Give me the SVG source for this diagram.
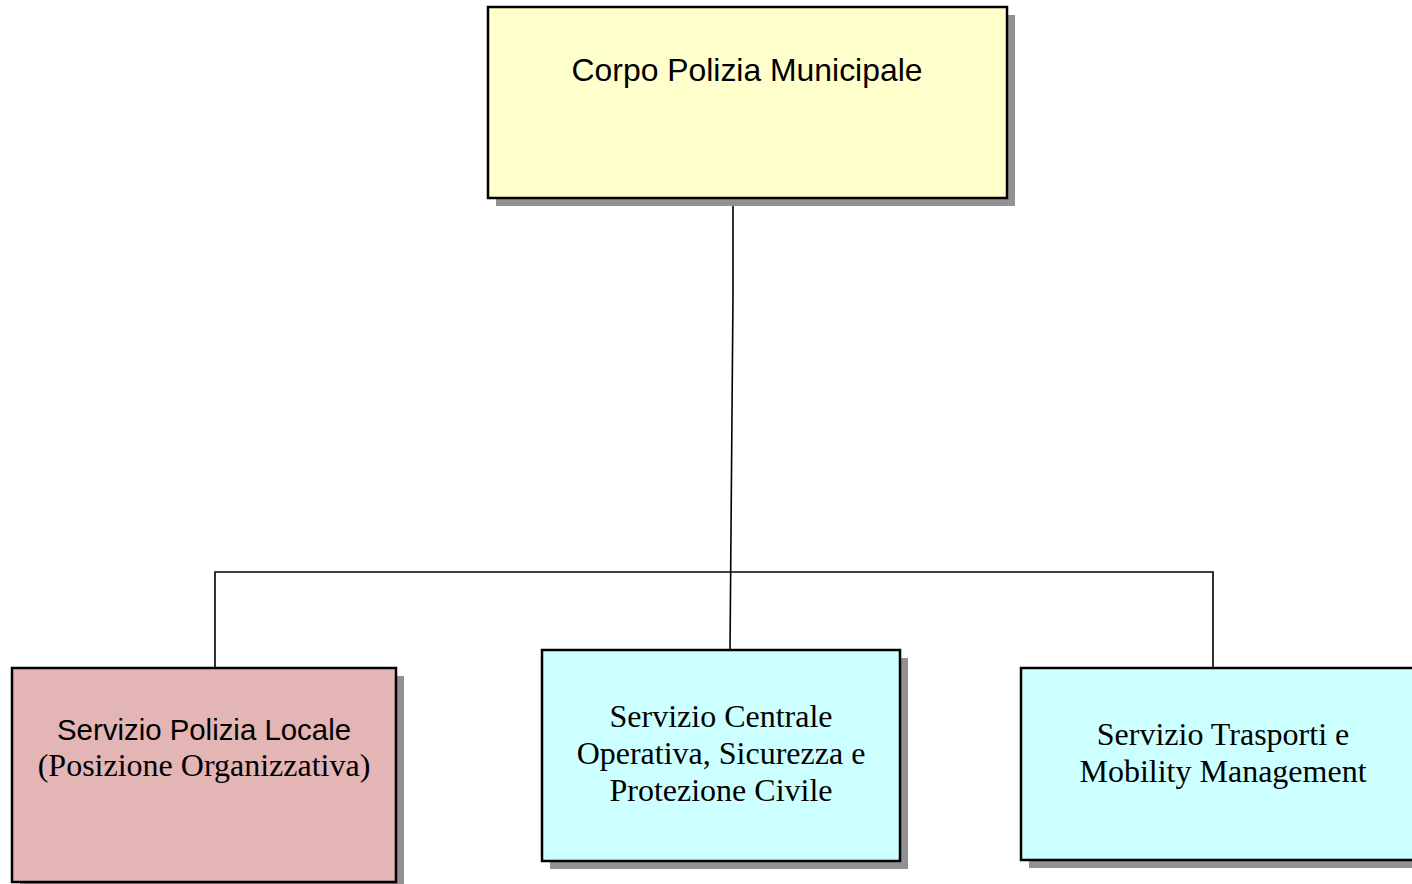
<svg xmlns="http://www.w3.org/2000/svg" width="1412" height="884" viewBox="0 0 1412 884">
<style>
.shadow{fill:#929292}
.box{stroke:#000;stroke-width:2.5}
.conn{fill:none;stroke:#000;stroke-width:1.6}
.sans{font-family:"Liberation Sans",Arial,sans-serif;fill:#000;text-anchor:middle}
.serif{font-family:"Liberation Serif","Times New Roman",serif;fill:#000;text-anchor:middle;font-size:32px}
</style>
<rect width="1412" height="884" fill="#fff"/>
<g id="connectors">
<polyline class="conn" points="733,206 733,295 730,650"/>
<polyline class="conn" points="215,668 215,572 1213,572 1213,668"/>
</g>
<g id="node-corpo">
<rect class="shadow" x="496" y="15" width="519" height="191"/>
<rect class="box" x="488" y="7" width="519" height="191" fill="#FFFFCC"/>
<text class="sans" x="747" y="81" font-size="31.9">Corpo Polizia Municipale</text>
</g>
<g id="node-locale">
<rect class="shadow" x="20" y="676" width="384" height="214"/>
<rect class="box" x="12" y="668" width="384" height="214" fill="#E3B5B5"/>
<text class="sans" x="204" y="740" font-size="29.4">Servizio Polizia Locale</text>
<text class="serif" x="204" y="776">(Posizione Organizzativa)</text>
</g>
<g id="node-centrale">
<rect class="shadow" x="550" y="658" width="358" height="211"/>
<rect class="box" x="542" y="650" width="358" height="211" fill="#CCFFFF"/>
<text class="serif" x="721" y="727">Servizio Centrale</text>
<text class="serif" x="721" y="764">Operativa, Sicurezza e</text>
<text class="serif" x="721" y="801">Protezione Civile</text>
</g>
<g id="node-trasporti">
<rect class="shadow" x="1029" y="676" width="400" height="192"/>
<rect class="box" x="1021" y="668" width="400" height="192" fill="#CCFFFF"/>
<text class="serif" x="1223" y="745">Servizio Trasporti e</text>
<text class="serif" x="1223" y="782">Mobility Management</text>
</g>
</svg>
